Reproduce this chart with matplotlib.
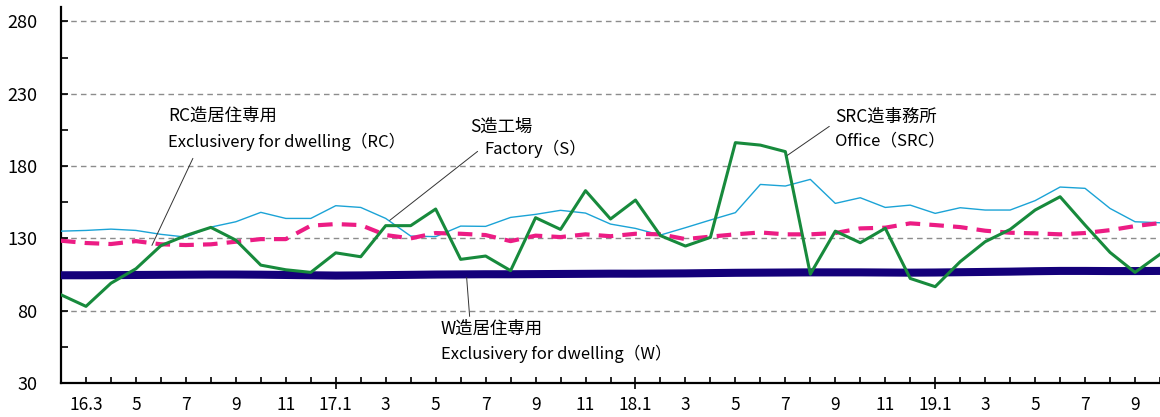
import numpy as np
import matplotlib
matplotlib.use("Agg")
import matplotlib.pyplot as plt
from matplotlib.ticker import FixedLocator

plt.rcParams['font.family'] = ['Noto Sans CJK JP', 'DejaVu Sans']

# months 2016.2 .. 2019.10
month_labels = ['', '16.3', '', '5', '', '7', '', '9', '', '11', '', '17.1', '', '3', '', '5', '', '7', '',
                '9', '', '11', '', '18.1', '', '3', '', '5', '', '7', '', '9', '', '11', '', '19.1', '',
                '3', '', '5', '', '7', '', '9', '']
year_start_labels = ['17.1', '18.1', '19.1']
y_tick_values = [30, 80, 130, 180, 230, 280]

src_office = [91, 83, 99, 109, 125, 132, 137.6, 128.8, 111.5, 108.3, 106.5, 120, 117.3, 138.8, 138.8, 150.3,
              115.5, 117.8, 107.7, 144.3, 136.2, 163, 143.4, 156.5, 131.9, 124.7, 130.7, 196.2, 194.5, 190,
              105.3, 135, 127, 137, 102.3, 96.6, 113.9, 127.7, 136.2, 149.6, 158.8, 139.2, 120.3, 106.5, 119]
s_factory = [135, 135.5, 136.4, 135.5, 132.8, 130.9, 137.8, 141.5, 148, 143.8, 143.8, 152.6, 151.4, 143.8,
             131.6, 131.2, 138.5, 138.3, 144.5, 146.6, 149.4, 147.5, 139.9, 136.9, 132.3, 137.4, 142.7,
             147.8, 167.3, 166.2, 170.8, 154.2, 158.1, 151.4, 153, 147.3, 151.2, 149.6, 149.6, 156.1,
             165.5, 164.6, 150.7, 141.5, 140.8]
rc_dwelling = [128.4, 126.8, 126.1, 128.1, 125.9, 125.4, 125.9, 127.7, 129.5, 129.5, 138.8, 139.9, 139.2,
               132.3, 130, 133.7, 133.2, 132.3, 128.1, 131.9, 130.9, 132.8, 131.5, 133.2, 132.8, 129.5,
               131.2, 132.8, 134.1, 132.8, 132.8, 133.7, 136.9, 137.4, 140.4, 139.2, 137.8, 135.3, 133.9,
               133.5, 132.8, 133.7, 135.7, 138.5, 140.6]
w_dwelling = [104.5, 104.5, 104.6, 104.7, 104.8, 104.9, 105, 105, 104.9, 104.7, 104.5, 104.3, 104.4, 104.6,
              104.8, 105, 105.1, 105.2, 105.2, 105.3, 105.4, 105.5, 105.6, 105.6, 105.7, 105.8, 106, 106.2,
              106.3, 106.4, 106.5, 106.5, 106.5, 106.4, 106.3, 106.4, 106.6, 106.8, 107, 107.3, 107.5,
              107.5, 107.4, 107.4, 107.5]

W, H = 1160, 417
fig = plt.figure(figsize=(W / 100, H / 100), dpi=100)
ax = fig.add_axes([61 / W, (H - 383) / H, 1 - 61 / W, (383 - 7) / H])

x = np.arange(len(month_labels))
ax.plot(x, s_factory, color='#1ba3d6', lw=1.0, zorder=3)
ax.plot(x, w_dwelling, color='#14007a', lw=5.8, zorder=4, solid_capstyle='butt')
ax.plot(x, rc_dwelling, color='#ec1c84', lw=3.0, dashes=(3.5, 2.2), zorder=5)
ax.plot(x, src_office, color='#178a3c', lw=2.2, zorder=6)

ax.set_xlim(0, 1099 / 25)
ax.set_ylim(30, 290)

ax.yaxis.set_major_locator(FixedLocator(y_tick_values))
ax.yaxis.set_minor_locator(FixedLocator([v + 25 for v in y_tick_values[:-1]]))
ax.grid(axis='y', which='major', color='#8c8c8c', ls=(0, (4, 3)), lw=1.0, zorder=1)
ax.set_axisbelow(True)

ax.set_xticks(x)
ax.set_xticklabels(month_labels)
ax.tick_params(axis='x', which='major', direction='in', length=4, width=1.2, pad=9, labelsize=12.5)
ax.tick_params(axis='y', which='major', direction='in', length=5, width=1.2, pad=17, labelsize=13)
ax.tick_params(axis='y', which='minor', direction='in', length=5, width=1.2)
for t, lab in zip(ax.xaxis.get_major_ticks(), month_labels):
    if lab in year_start_labels:
        t.tick1line.set_marker('|')
        t.tick1line.set_markersize(9)

for s in ['top', 'right']:
    ax.spines[s].set_visible(False)
for s in ['left', 'bottom']:
    ax.spines[s].set_linewidth(1.6)

def px(xp, yp):
    return ((xp - 61) / 25, 130 + (240 - yp) / 1.446)

fs_jp = 12.5
fs_en = 12
line_kw = dict(arrowstyle='-', lw=0.7, color='#333333', shrinkA=0, shrinkB=0)

ax.annotate('', xy=px(152, 247), xytext=px(193, 160), arrowprops=line_kw, zorder=7)
ax.text(*px(168, 117), 'RC造居住専用', fontsize=fs_jp, va='center', ha='left')
ax.text(*px(168, 143), 'Exclusivery for dwelling（RC）', fontsize=fs_en, va='center', ha='left')

ax.annotate('', xy=px(390, 222), xytext=px(478, 153), arrowprops=line_kw, zorder=7)
ax.text(*px(471, 128), 'S造工場', fontsize=fs_jp, va='center', ha='left')
ax.text(*px(485, 150), 'Factory（S）', fontsize=fs_en, va='center', ha='left')

ax.annotate('', xy=px(788, 157), xytext=px(830, 128), arrowprops=line_kw, zorder=7)
ax.text(*px(836, 118), 'SRC造事務所', fontsize=fs_jp, va='center', ha='left')
ax.text(*px(836, 143), 'Office（SRC）', fontsize=fs_en, va='center', ha='left')

ax.annotate('', xy=px(467, 279), xytext=px(470, 318), arrowprops=line_kw, zorder=7)
ax.text(*px(441, 330), 'W造居住専用', fontsize=fs_jp, va='center', ha='left')
ax.text(*px(441, 355), 'Exclusivery for dwelling（W）', fontsize=fs_en, va='center', ha='left')

fig.savefig('out.png', dpi=100)
